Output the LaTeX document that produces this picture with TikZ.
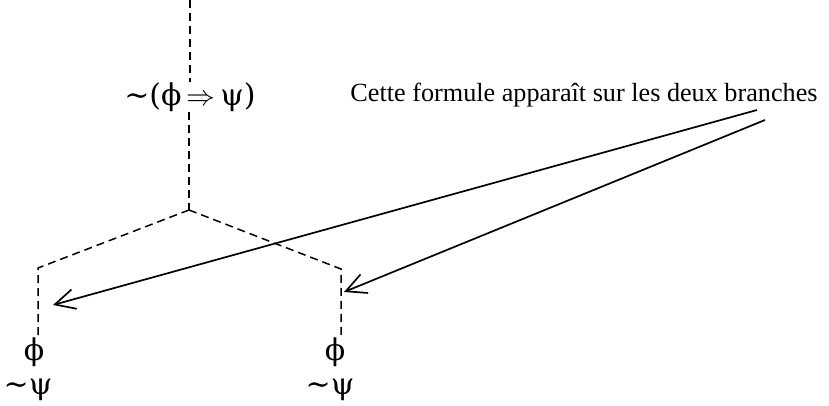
\documentclass[tikz,border=0pt]{standalone}
\usepackage{fontspec}
\setmainfont{Liberation Serif}
\newfontfamily\greekfont{DejaVu Serif}
\usetikzlibrary{arrows.meta}

\tikzset{
  branch/.style={dash pattern=on 4pt off 2.5pt, line width=0.75pt},
  formula/.style={font=\greekfont\fontsize{15}{17}\selectfont, inner sep=0pt},
  pointer/.style={line width=0.85pt, -{Straight Barb[length=10pt,width=10pt]}},
}

\begin{document}
\begin{tikzpicture}[x=0.5pt, y=-0.5pt]
  \useasboundingbox (0,0) rectangle (829,406);

  % Trunk
  \coordinate (top) at (190,0);
  \node[formula] (neg) at (190,97) {∼(ϕ\,$\Rightarrow$\,ψ)};
  \coordinate (split) at (189,210);
  \draw[branch] (top) -- (top |- neg.north);
  \draw[branch] (split |- neg.south) -- (split);

  % Branches
  \coordinate (lcorner) at (38,268);
  \coordinate (rcorner) at (341,269);
  \node[formula] (lphi) at (34,352) {ϕ};
  \node[formula] (lpsi) at (28,390) {∼ψ};
  \node[formula] (rphi) at (335,352) {ϕ};
  \node[formula] (rpsi) at (330,390) {∼ψ};
  \draw[branch] (split) -- (lcorner) -- (lcorner |- lphi.north);
  \draw[branch] (split) -- (rcorner) -- (rcorner |- rphi.north);

  % Comment
  \node[anchor=base, inner sep=0pt, font=\fontsize{13.1}{15}\selectfont] (note) at (584,102)
    {Cette formule apparaît sur les deux branches};
  \coordinate (lfrom) at (757,110);
  \coordinate (rfrom) at (765,120);
  \coordinate (ltip) at (53,305);
  \coordinate (rtip) at (344,292);
  \draw[pointer] (lfrom) -- (ltip);
  \draw[pointer] (rfrom) -- (rtip);
\end{tikzpicture}
\end{document}
